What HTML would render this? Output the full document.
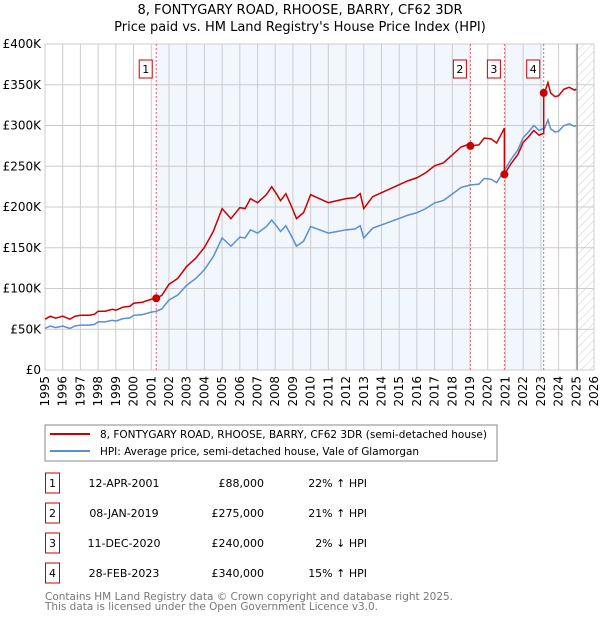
<!DOCTYPE html>
<html><head><meta charset="utf-8"><style>
body{margin:0;background:#fff;font-family:"DejaVu Sans","Liberation Sans",sans-serif;}
svg text{font-family:"DejaVu Sans","Liberation Sans",sans-serif;}
</style></head><body>
<svg id="c" width="600" height="620" viewBox="0 0 600 620" xmlns="http://www.w3.org/2000/svg">
<defs><pattern id="hatch" width="6" height="6" patternUnits="userSpaceOnUse" patternTransform="rotate(45)"><line x1="0" y1="0" x2="0" y2="6" stroke="#ccc" stroke-width="1"/></pattern></defs>
<text x="300" y="14" text-anchor="middle" font-size="13">8, FONTYGARY ROAD, RHOOSE, BARRY, CF62 3DR</text>
<text x="300" y="31" text-anchor="middle" font-size="13">Price paid vs. HM Land Registry's House Price Index (HPI)</text>
<g id="plot"></g>
<rect x="45" y="425" width="452" height="36" fill="#fff" stroke="#888"/>
<line x1="50" y1="434" x2="90" y2="434" stroke="#cc0000" stroke-width="2"/>
<text x="100" y="438" font-size="11" textLength="387" lengthAdjust="spacingAndGlyphs">8, FONTYGARY ROAD, RHOOSE, BARRY, CF62 3DR (semi-detached house)</text>
<line x1="50" y1="451" x2="90" y2="451" stroke="#5b8fd0" stroke-width="2"/>
<text x="100" y="455" font-size="11" textLength="319" lengthAdjust="spacingAndGlyphs">HPI: Average price, semi-detached house, Vale of Glamorgan</text>
<g id="table" font-size="11"></g>
<text x="45" y="600" font-size="11" fill="#777" textLength="408" lengthAdjust="spacingAndGlyphs">Contains HM Land Registry data © Crown copyright and database right 2025.</text>
<text x="45" y="610" font-size="11" fill="#777" textLength="333" lengthAdjust="spacingAndGlyphs">This data is licensed under the Open Government Licence v3.0.</text>
</svg>
<script>
const hpiDates=[1995,1995.3,1995.6,1996,1996.4,1996.7,1997,1997.5,1997.8,1998,1998.4,1998.8,1999,1999.4,1999.8,2000,2000.5,2001,2001.28,2001.6,2002,2002.5,2003,2003.5,2004,2004.5,2005,2005.5,2006,2006.3,2006.6,2007,2007.5,2007.8,2008.1,2008.3,2008.6,2008.9,2009.2,2009.6,2010,2010.5,2011,2011.5,2012,2012.5,2012.8,2013,2013.5,2014,2014.5,2015,2015.5,2016,2016.5,2017,2017.5,2018,2018.5,2019,2019.5,2019.8,2020.2,2020.5,2020.8,2020.94,2021.3,2021.7,2022,2022.3,2022.6,2022.9,2023.1,2023.2,2023.4,2023.55,2023.8,2024,2024.3,2024.6,2024.9,2025];
const hpiValues=[51,54,52,54,51,54,55,55,56,59,59,61,60,63,64,67,68,71,72,75,86,92,104,112,123,139,162,152,163,162,172,168,176,184,176,170,177,165,152,158,176,172,168,170,172,173,177,162,174,178,182,186,190,193,198,205,208,216,224,227,228,235,234,230,240,245,258,270,285,292,300,294,296,296,307,296,292,293,300,302,299,300];
const saleLabels=["1","2","3","4"];
const saleDates=[2001.28,2019.02,2020.94,2023.16];
const salePrices=[88,275,240,340];
const saleDateText=["12-APR-2001","08-JAN-2019","11-DEC-2020","28-FEB-2023"];
const salePriceText=["£88,000","£275,000","£240,000","£340,000"];
const saleHpiText=["22% \u2191 HPI","21% \u2191 HPI","2% \u2193 HPI","15% \u2191 HPI"];
const yTicks=[0,50,100,150,200,250,300,350,400];
const yTickLabels=["£0","£50K","£100K","£150K","£200K","£250K","£300K","£350K","£400K"];
const xTicks=[1995,1996,1997,1998,1999,2000,2001,2002,2003,2004,2005,2006,2007,2008,2009,2010,2011,2012,2013,2014,2015,2016,2017,2018,2019,2020,2021,2022,2023,2024,2025,2026];

const NS="http://www.w3.org/2000/svg";
const X0=45,X1=594,Y0=370,Y1=44,T0=1995,T1=2026,V1=400;
const xs=t=>X0+(t-T0)/(T1-T0)*(X1-X0);
const ys=v=>Y0-v/V1*(Y0-Y1);
const plot=document.getElementById('plot');
function mk(tag,attrs,parent){const e=document.createElementNS(NS,tag);for(const k in attrs)e.setAttribute(k,attrs[k]);(parent||plot).appendChild(e);return e;}
function hpiAt(t){for(let i=1;i<hpiDates.length;i++){if(t<=hpiDates[i]){const f=(t-hpiDates[i-1])/(hpiDates[i]-hpiDates[i-1]);return hpiValues[i-1]+f*(hpiValues[i]-hpiValues[i-1]);}}return hpiValues[hpiValues.length-1];}
const ratios=saleDates.map((d,i)=>salePrices[i]/hpiAt(d));

const bands=[[saleDates[0],saleDates[1]],[saleDates[2],saleDates[3]]];
bands.forEach(b=>{const r=mk('rect',{x:xs(b[0]),y:Y1,width:xs(b[1])-xs(b[0]),height:Y0-Y1,fill:'#eef3fc',opacity:0.75});

});
const hz=mk('rect',{x:xs(2025.1),y:Y1,width:X1-xs(2025.1),height:Y0-Y1,fill:'url(#hatch)'});


xTicks.forEach((t,i)=>{const l=mk('line',{x1:xs(t),x2:xs(t),y1:Y1,y2:Y0,stroke:'#ccc','stroke-width':1});


const tx=mk('text',{x:0,y:0,'font-size':12,'text-anchor':'end',transform:`translate(${xs(t)+4},${Y0+6}) rotate(-90)`});
tx.textContent=String(t);

});
yTicks.forEach((v,i)=>{const l=mk('line',{x1:X0,x2:X1,y1:ys(v),y2:ys(v),stroke:'#ccc','stroke-width':1});


const tx=mk('text',{x:X0-4,y:ys(v)+4,'font-size':12,'text-anchor':'end'});
tx.textContent=yTickLabels[i];

});
const ax=mk('line',{x1:xs(2025.05),x2:xs(2025.05),y1:Y1,y2:Y0,stroke:'#888','stroke-width':1.2});


saleDates.forEach((d,i)=>{const l=mk('line',{x1:xs(d),x2:xs(d),y1:Y1,y2:Y0,stroke:'#f06060','stroke-width':1,'stroke-dasharray':'2,2'});


const r=mk('rect',{x:xs(d)-17,y:60,width:13,height:18,fill:'#fff',stroke:'#cc0000'});


const tx=mk('text',{x:xs(d)-10.5,y:73,'font-size':11,'text-anchor':'middle'});
tx.textContent=saleLabels[i];

});
const hp=mk('polyline',{points:hpiDates.map((t,i)=>xs(t)+','+ys(hpiValues[i])).join(' '),fill:'none',stroke:'#5b8fd0','stroke-width':1.5});


const pts=[];
function seg(k,ta,tb){const r=ratios[k];const ts=[ta,...hpiDates.filter(t=>t>ta&&t<tb),tb];ts.forEach(t=>pts.push(xs(t)+','+ys(hpiAt(t)*r)));}
seg(0,T0,saleDates[1]);
for(let k=1;k<saleDates.length;k++){seg(k,saleDates[k],k+1<saleDates.length?saleDates[k+1]:hpiDates[hpiDates.length-1]);}
const pl=mk('polyline',{points:pts.join(' '),fill:'none',stroke:'#cc0000','stroke-width':1.5});


saleDates.forEach((d,i)=>{const c=mk('circle',{cx:xs(d),cy:ys(salePrices[i]),r:4,fill:'#cc0000'});

});
const tb=document.getElementById('table');
saleDates.forEach((d,i)=>{const y=483+i*30;
const r=mk('rect',{x:45.5,y:y-10,width:14,height:20,fill:'#fff',stroke:'#cc0000'},tb);


const cells=[[52.5,'middle',saleLabels[i]],[124,'middle',saleDateText[i]],[264,'end',salePriceText[i]],[367,'end',saleHpiText[i]]];
cells.forEach(c=>{const t=mk('text',{x:c[0],y:y+4,'text-anchor':c[1]},tb);t.textContent=c[2];

});});
</script>
</body></html>
